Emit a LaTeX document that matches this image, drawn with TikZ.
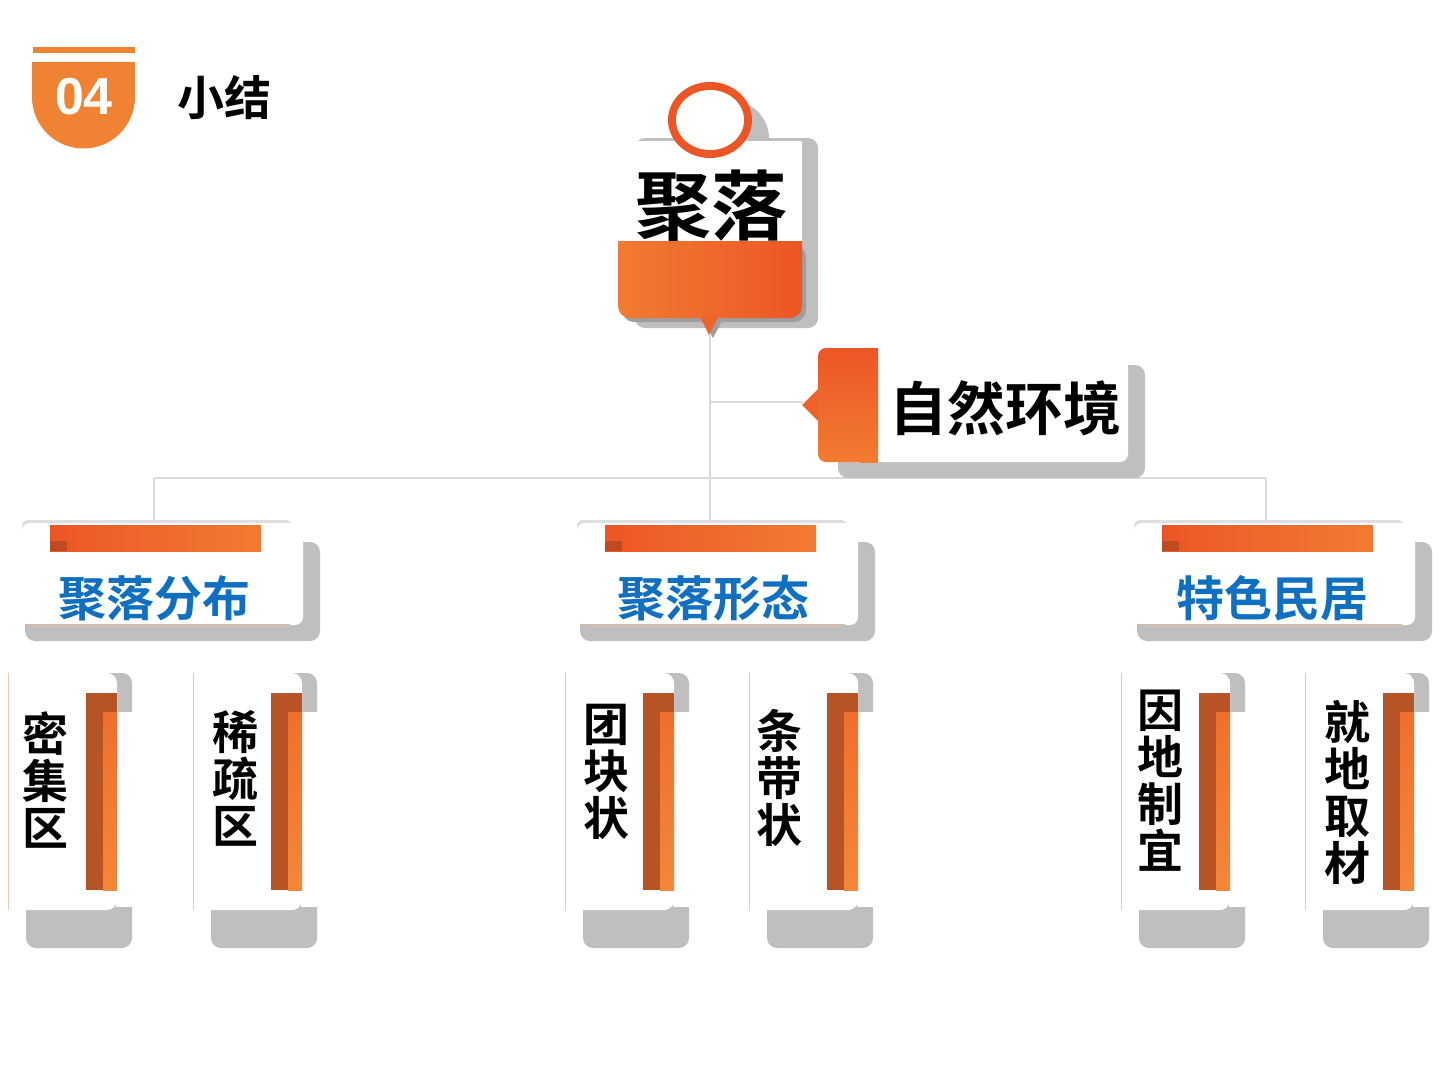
\documentclass[tikz,border=0pt]{standalone}
\usepackage{fontspec}
\setmainfont{Liberation Sans}
\newfontfamily\cjk{Noto Sans CJK SC}[BoldFont={Noto Sans CJK SC Bold}]
\definecolor{hdr}{HTML}{EF8233}
\definecolor{lineg}{HTML}{DADADA}
\definecolor{shg}{HTML}{BFBFBF}
\definecolor{shd}{HTML}{9E9E9E}
\definecolor{topg}{HTML}{DEDEDE}
\definecolor{orA}{HTML}{F27B31}
\definecolor{orB}{HTML}{EC5625}
\definecolor{sq}{HTML}{BE4A22}
\definecolor{darkor}{HTML}{B65426}
\definecolor{or3}{HTML}{EF6F2C}
\definecolor{or4}{HTML}{F2873A}
\definecolor{blueone}{HTML}{0F70C1}
\definecolor{leafl}{HTML}{EBC6B2}
\definecolor{botl}{HTML}{E3B396}
\tikzset{
  conn/.style={draw=lineg, line width=2.6pt},
  lvtwo/.style={text=blueone, font=\cjk\bfseries\fontsize{48}{48}\selectfont, inner sep=0pt},
  leaftext/.style={align=center, font=\cjk\bfseries\fontsize{46}{47}\selectfont, inner sep=0pt},
  leafline/.style={draw=leafl, line width=0.8pt},
}
\newcommand\leafbox[5]{%
  \fill[shg, rounded corners=10pt] ({#1+18},673) rectangle ({#1+124},948);
  \fill[white] ({#1+108},712) rectangle ({#1+125},907);
  \fill[white, rounded corners=10pt] (#1,673) rectangle ({#1+109},910);
  \fill[white] (#1,673) rectangle ({#1+90},910);
  \draw[leafline] (#1,673) -- (#1,910);
  \fill[darkor] ({#1+78},693) rectangle ({#1+109},890);
  \shade[top color=or3, bottom color=or4] ({#1+95},712) rectangle ({#1+109},890);
  \node[leaftext] (#5) at (#2,#3) {#4};
}
\newcommand\lvtwobox[4]{%
  \fill[shg, rounded corners=10pt] ({25+#1},542) rectangle ({320+#1},641);
  \fill[topg, rounded corners=6pt] ({22+#1},520) rectangle ({292+#1},560);
  \fill[white, rounded corners=8pt] ({22+#1},523) rectangle ({303+#1},625);
  \shade[left color=orB, right color=orA] ({50+#1},525) rectangle ({261+#1},551);
  \fill[sq] ({50+#1},541) rectangle ({67+#1},551);
  \draw[botl, line width=0.8pt] ({25+#1},624.5) -- ({290+#1},624.5);
  \node[lvtwo] (#4) at (#2,598) {#3};
}
\begin{document}
\begin{tikzpicture}[x=1pt,y=-1pt]
\useasboundingbox[fill=white] (0,0) rectangle (1440,1080);

% header
\fill[hdr] (33,47) rectangle (135,53);
\begin{scope}
  \clip (0,97) rectangle (200,160);
  \fill[hdr] (83.5,97) circle[radius=51.5pt];
\end{scope}
\fill[hdr] (32,62) rectangle (135,97.5);
\node[text=white, font=\bfseries\fontsize{52}{52}\selectfont, inner sep=0pt] (num) at (84,97) {04};
\node[font=\cjk\bfseries\fontsize{47}{47}\selectfont, inner sep=0pt] (title) at (224,98) {小结};

% connectors
\coordinate (rootTip) at (710,334);
\coordinate (midJ) at (710,402);
\coordinate (callTip) at (803,402);
\coordinate (junc) at (710,478);
\coordinate (jA) at (154,478);
\coordinate (jC) at (1266,478);
\coordinate (topA) at (154,523);
\coordinate (topB) at (710,523);
\coordinate (topC) at (1266,523);
\draw[conn] (rootTip) -- (topB);
\draw[conn] (midJ) -- (callTip);
\draw[conn] (jA) -- (jC);
\draw[conn] (jA) -- (topA);
\draw[conn] (jC) -- (topC);

% root node
\fill[shg, rounded corners=10pt] (635,138) rectangle (818,328);
\fill[shg] (729,138) ellipse[x radius=40pt, y radius=38pt];
\fill[white] (618,141) rectangle (802,318);
\node[font=\cjk\bfseries\fontsize{76}{76}\selectfont, inner sep=0pt] (root) at (711,206) {聚落};
\fill[shd, rounded corners=12pt] (622,245) rectangle (806,322);
\fill[shd] (704,321) -- (713,338) -- (722,321) -- cycle;
\shade[left color=orA, right color=orB, rounded corners=12pt] (618,241) rectangle (802,318);
\shade[left color=orA, right color=orB] (618,241) rectangle (802,260);
\fill[orB!60!orA] (700,317) -- (709,335) -- (718,317) -- cycle;
\fill[orB] (710,120) ellipse[x radius=42pt, y radius=38pt];
\fill[white] (710,120) ellipse[x radius=34pt, y radius=30pt];

% callout node
\fill[shg, rounded corners=10pt] (838,365) rectangle (1145,478);
\fill[white, rounded corners=8pt] (818,348) rectangle (1128,462);
\shade[top color=orB, bottom color=orA, rounded corners=8pt] (818,348) rectangle (878,462);
\shade[top color=orB, bottom color=orA] (860,348) rectangle (878,462);
\fill[orB!70!orA] (818,389) -- (802,405) -- (818,421) -- cycle;
\node[font=\cjk\bfseries\fontsize{58}{58}\selectfont, inner sep=0pt] (nat) at (1005,408) {自然环境};

% level two
\lvtwobox{0}{154}{聚落分布}{lA}
\lvtwobox{555}{713}{聚落形态}{lB}
\lvtwobox{1112}{1272}{特色民居}{lC}

% leaves
\leafbox{8}{45}{780}{密\\集\\区}{leafA}
\leafbox{193}{235}{778}{稀\\疏\\区}{leafB}
\leafbox{565}{606}{772}{团\\块\\状}{leafC}
\leafbox{749}{779}{778}{条\\带\\状}{leafD}
\leafbox{1121}{1160}{781}{因\\地\\制\\宜}{leafE}
\leafbox{1305}{1347}{792}{就\\地\\取\\材}{leafF}
\end{tikzpicture}
\end{document}
